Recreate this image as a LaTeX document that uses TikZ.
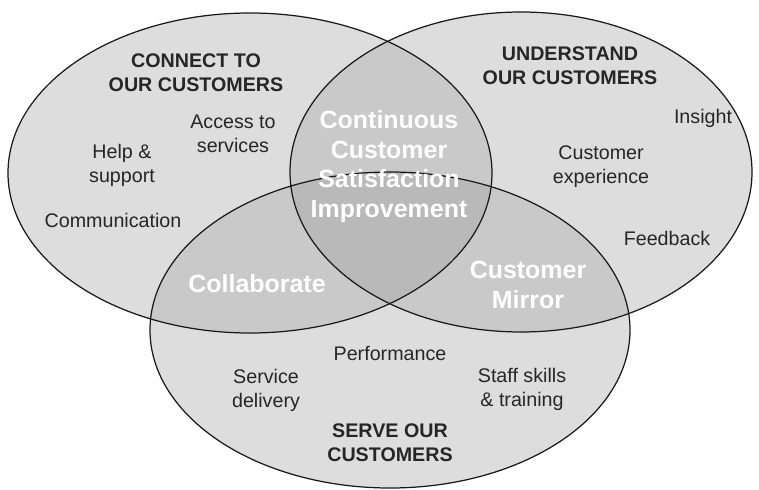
\documentclass[tikz,border=0pt]{standalone}
\usepackage{fontspec}
\setmainfont{Liberation Sans}
\usepackage{tikz}
\usetikzlibrary{positioning}
\definecolor{oneset}{gray}{0.865}
\definecolor{twosets}{gray}{0.79}
\definecolor{threesets}{gray}{0.725}

\begin{document}
\begin{tikzpicture}[
  outline/.style={draw=black!90,line width=0.7pt},
  item/.style={inner sep=0pt,align=center,text=black!85,font=\fontsize{11.2}{13.7}\selectfont},
  heading/.style={item,font=\fontsize{11.2}{13.7}\selectfont\bfseries},
  overlap/.style={inner sep=0pt,align=center,text=white,font=\fontsize{14.2}{16.8}\selectfont\bfseries}]
\useasboundingbox (0,0) rectangle (15.18,9.78);
\def\setL{(5.0,6.32) ellipse (4.84 and 3.2)}
\def\setR{(10.42,6.34) ellipse (4.62 and 3.2)}
\def\setB{(7.8,3.18) ellipse (4.8 and 3.16)}
% the three sets
\fill[oneset] \setL;
\fill[oneset] \setR;
\fill[oneset] \setB;
\begin{scope}
  \clip \setL;
  \fill[twosets] \setR;
  \fill[twosets] \setB;
\end{scope}
\begin{scope}
  \clip \setR;
  \fill[twosets] \setB;
\end{scope}
\begin{scope}
  \clip \setL;
  \clip \setR;
  \fill[threesets] \setB;
\end{scope}
\draw[outline] \setL;
\draw[outline] \setR;
\draw[outline] \setB;
% connect
\node[heading] (connect) at (3.92,8.32) {CONNECT TO\\OUR CUSTOMERS};
\node[item] (access) at (4.66,7.10) {Access to\\services};
\node[item] (help) at (2.44,6.48) {Help \&\\support};
\node[item] (comm) at (2.26,5.38) {Communication};
% understand
\node[heading] (understand) at (11.40,8.46) {UNDERSTAND\\OUR CUSTOMERS};
\node[item] (insight) at (14.06,7.42) {Insight};
\node[item] (custexp) at (12.02,6.44) {Customer\\experience};
\node[item] (feedback) at (13.34,5.02) {Feedback};
% serve
\node[item] (perf) at (7.80,2.72) {Performance};
\node[item] (servdel) at (5.32,1.98) {Service\\delivery};
\node[item] (staff) at (10.44,2.00) {Staff skills\\\& training};
\node[heading] (serve) at (7.80,0.92) {SERVE OUR\\CUSTOMERS};
% overlaps
\node[overlap] (ccsi) at (7.78,6.45) {Continuous\\Customer\\Satisfaction\\Improvement};
\node[overlap] (collab) at (5.14,4.10) {Collaborate};
\node[overlap] (mirror) at (10.56,4.08) {Customer\\Mirror};
\end{tikzpicture}
\end{document}
